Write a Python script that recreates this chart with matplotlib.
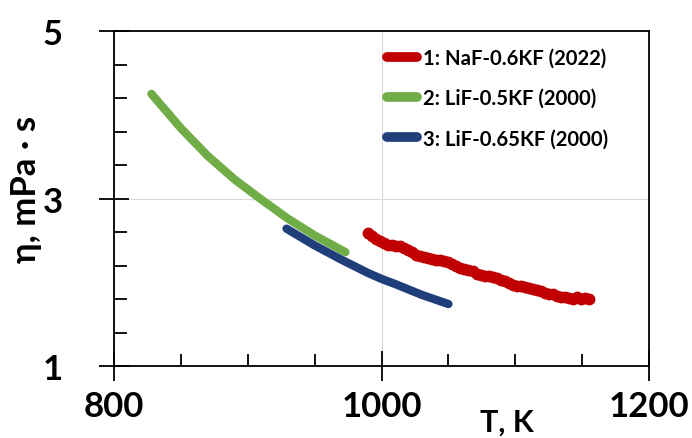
import matplotlib
matplotlib.use("Agg")
import matplotlib.pyplot as plt
from matplotlib.ticker import FixedLocator

plt.rcParams["font.family"] = ["Lato", "Open Sans", "DejaVu Sans"]
plt.rcParams["font.weight"] = "bold"

## Data
# 1: NaF-0.6KF (2022)
t_naf = [990, 993, 996, 999, 1002, 1005, 1008, 1011, 1014, 1017, 1020, 1023, 1026, 1029,
         1032, 1035, 1038, 1041, 1044, 1047, 1050, 1053, 1056, 1059, 1062, 1065, 1068, 1071,
         1074, 1077, 1080, 1083, 1086, 1089, 1092, 1095, 1098, 1101, 1104, 1107, 1110, 1113,
         1116, 1119, 1122, 1125, 1128, 1131, 1134, 1137, 1140, 1143, 1146, 1149, 1152, 1155]
eta_naf = [2.59, 2.55, 2.52, 2.49, 2.47, 2.45, 2.44, 2.43, 2.43, 2.41, 2.39, 2.36, 2.33, 2.31,
           2.30, 2.29, 2.28, 2.27, 2.26, 2.25, 2.24, 2.22, 2.19, 2.17, 2.16, 2.15, 2.13, 2.10,
           2.09, 2.08, 2.07, 2.06, 2.05, 2.03, 2.01, 1.99, 1.97, 1.96, 1.95, 1.94, 1.93, 1.92,
           1.91, 1.89, 1.87, 1.86, 1.86, 1.84, 1.82, 1.83, 1.81, 1.80, 1.82, 1.80, 1.81, 1.80]

# 2: LiF-0.5KF (2000)
t_lif05 = [828, 850, 870, 890, 910, 930, 950, 973]
eta_lif05 = [4.25, 3.84, 3.51, 3.23, 2.99, 2.76, 2.56, 2.36]

# 3: LiF-0.65KF (2000)
t_lif065 = [929, 950, 970, 990, 1000, 1010, 1030, 1050]
eta_lif065 = [2.64, 2.44, 2.27, 2.11, 2.04, 1.98, 1.85, 1.74]

labels = ["1: NaF-0.6KF (2022)", "2: LiF-0.5KF (2000)", "3: LiF-0.65KF (2000)"]

x_major = [800, 1000, 1200]
x_minor = [850, 900, 950, 1050, 1100, 1150]
y_major = [1, 3, 5]
y_minor = [1.4, 1.8, 2.2, 2.6, 3.4, 3.8, 4.2, 4.6]

fig = plt.figure(figsize=(6.92, 4.39), dpi=100)
ax = fig.add_axes([0.1647, 0.164, 0.7733, 0.763])

ax.plot(t_naf, eta_naf, color="#c00000", lw=4.5, marker="o", ms=7.5,
        solid_capstyle="round", label=labels[0], zorder=3)
ax.plot(t_lif05, eta_lif05, color="#70ad47", lw=6, solid_capstyle="round",
        label=labels[1], zorder=2)
ax.plot(t_lif065, eta_lif065, color="#203f7a", lw=6, solid_capstyle="round",
        label=labels[2], zorder=2)

ax.set_xlim(800, 1200)
ax.set_ylim(1, 5)
ax.xaxis.set_major_locator(FixedLocator(x_major))
ax.xaxis.set_minor_locator(FixedLocator(x_minor))
ax.yaxis.set_major_locator(FixedLocator(y_major))
ax.yaxis.set_minor_locator(FixedLocator(y_minor))
ax.grid(True, which="major", color="#d9d9d9", lw=0.8)
ax.set_axisbelow(True)

for s in ax.spines.values():
    s.set_linewidth(1.3)
ax.tick_params(which="major", direction="inout", length=22, width=1.3, labelsize=25, pad=6)
ax.tick_params(axis="y", which="major", pad=26)
ax.tick_params(which="minor", direction="in", length=9, width=1.3)
for lab in ax.get_xticklabels() + ax.get_yticklabels():
    lab.set_fontweight("bold")

ax.set_ylabel("η, mPa · s", fontsize=25, fontweight="bold", labelpad=0)
ax.yaxis.set_label_coords(-0.135, 0.53)
ax.text(0.735, -0.165, "T, K", transform=ax.transAxes, fontsize=22,
        fontweight="bold", ha="center", va="center")

leg = ax.legend(loc="upper left", frameon=False, fontsize=14.6, handlelength=1.5,
                handletextpad=0.3, labelspacing=1.0, borderaxespad=0.0,
                borderpad=0.0, bbox_to_anchor=(0.51, 0.95))
for h in leg.legend_handles:
    h.set_marker("")
    h.set_linewidth(7)
    h.set_solid_capstyle("round")

fig.savefig("out.png", dpi=100)
